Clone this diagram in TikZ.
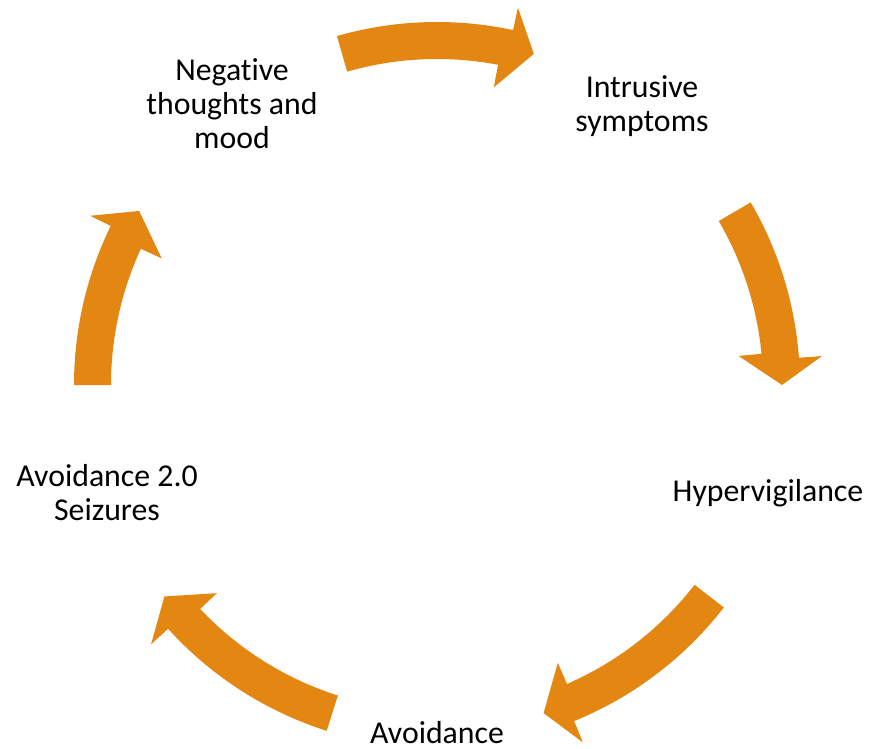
\documentclass[tikz,border=0pt]{standalone}
\usepackage{fontspec}
\setmainfont[Ligatures=NoCommon]{Carlito}
\definecolor{cyc}{RGB}{228,135,18}
\tikzset{
  lbl/.style={align=center, font=\fontsize{31.8}{34}\selectfont, inner sep=0pt, text=black},
  cycfill/.style={fill=cyc},
}
% #1 tail angle, #2 outer head corner angle, #3 tip angle, #4 inner head corner angle
\newcommand\cycarrow[4]{%
  \fill[cycfill] (#1:363pt) arc[start angle=#1, end angle=#2, radius=363pt]
    -- (#2:386pt) -- (#3:345pt) -- (#4:303pt) -- (#4:326pt)
    arc[start angle=#4, end angle=#1, radius=326pt] -- cycle;}
\begin{document}
\begin{tikzpicture}[x=1pt,y=1pt]
\useasboundingbox (0,0) rectangle (869,748);
\node[lbl] (neg) at (232,644) {Negative\\thoughts and\\mood};
\node[lbl] (intr) at (642,642) {Intrusive\\symptoms};
\node[lbl] (hyp) at (768,255) {Hypervigilance};
\node[lbl] (avd) at (437,15) {Avoidance};
\node[lbl] (avs) at (107,255) {Avoidance 2.0\\Seizures};
\begin{scope}[shift={(437,363)}]
  \cycarrow{106}{77.9}{73.7}{79.2}
  \cycarrow{30.2}{4.3}{0}{5.5}
  \cycarrow{-37.8}{-67.8}{-72}{-66.5}
  \cycarrow{-107.7}{-137.8}{-142.2}{-136.6}
  \cycarrow{180}{154}{149.7}{155.3}
\end{scope}
\end{tikzpicture}
\end{document}
